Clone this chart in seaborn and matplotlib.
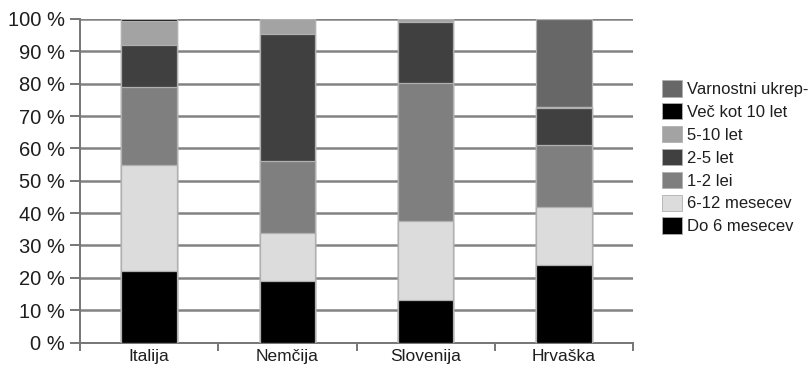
import numpy as np
import pandas as pd
import matplotlib
matplotlib.use("Agg")
import matplotlib.pyplot as plt
import seaborn as sns
from matplotlib.patches import Patch

countries = ["Italija", "Nemčija", "Slovenija", "Hrvaška"]

# shares (%) per sentence length, bottom to top of each stack
do_6_mesecev = [22.0, 19.0, 13.0, 24.0]
m6_12_mesecev = [33.0, 15.0, 24.7, 18.0]
let_1_2 = [24.0, 22.0, 42.4, 19.0]
let_2_5 = [13.0, 39.3, 19.1, 11.4]
let_5_10 = [7.5, 4.7, 0.8, 0.4]
vec_kot_10_let = [0.5, 0.0, 0.0, 0.0]
varnostni_ukrepi = [0.0, 0.0, 0.0, 27.2]

series_names = ["Do 6 mesecev", "6-12 mesecev", "1-2 lei", "2-5 let",
                "5-10 let", "Več kot 10 let", "Varnostni ukrep-"]
series_values = [do_6_mesecev, m6_12_mesecev, let_1_2, let_2_5,
                 let_5_10, vec_kot_10_let, varnostni_ukrepi]
series_colors = ["#000000", "#dcdcdc", "#7f7f7f", "#404040",
                 "#a3a3a3", "#000000", "#676767"]

sns.set_theme(style="white")
plt.rcParams["font.family"] = ["Liberation Sans", "DejaVu Sans"]

fig = plt.figure(figsize=(8.08, 3.68), dpi=100)
ax = fig.add_axes([80 / 808, 1 - 342.5 / 368, (633 - 80) / 808, (342.5 - 19) / 368])

# cumulative tops, drawn from the highest layer down so lower layers overlay
tops = np.cumsum(np.array(series_values), axis=0)
for name, top, color in reversed(list(zip(series_names, tops, series_colors))):
    df = pd.DataFrame({"country": countries, "value": top})
    sns.barplot(data=df, x="country", y="value", color=color, ax=ax,
                width=0.4, edgecolor="#b0b0b0", linewidth=0.9,
                saturation=1, zorder=3)

ax.set_ylim(0, 100)
ax.set_xlim(-0.5, 3.5)
ax.set_yticks(np.arange(0, 101, 10))
ax.set_yticklabels([f"{v} %" for v in range(0, 101, 10)], fontsize=14.5, color="#1e1e1e")
ax.set_xticks(range(4))
ax.set_xticklabels(countries, fontsize=12.5, color="#1e1e1e")
ax.set_xlabel("")
ax.set_ylabel("")

# horizontal gridlines
ax.yaxis.grid(True, color="#828282", linewidth=1.8, zorder=0)
ax.set_axisbelow(True)

for s in ["top", "right"]:
    ax.spines[s].set_visible(False)
for s in ["left", "bottom"]:
    ax.spines[s].set_color("#767676")
    ax.spines[s].set_linewidth(1.4)

ax.tick_params(axis="y", which="major", length=7, width=1.4, color="#767676",
               direction="out", left=True, pad=4)
# x-axis: ticks sit between categories, labels centered on bars
ax.tick_params(axis="x", which="major", length=0, pad=5)
ax.set_xticks([-0.5, 0.5, 1.5, 2.5, 3.5], minor=True)
ax.tick_params(axis="x", which="minor", length=6, width=1.4, color="#767676",
               direction="out", bottom=True)

handles = [Patch(facecolor=c, edgecolor="#b0b0b0", linewidth=0.6, label=n)
           for n, c in zip(series_names, series_colors)]
handles = handles[::-1]
fig.legend(handles=handles, loc="upper left", bbox_to_anchor=(662 / 808, 1 - 80 / 368),
           frameon=False, fontsize=12, handlelength=1.2, handleheight=1.15,
           handletextpad=0.3, labelspacing=0.36, borderaxespad=0, borderpad=0,
           labelcolor="#1e1e1e")

fig.savefig("out.png", dpi=100)
